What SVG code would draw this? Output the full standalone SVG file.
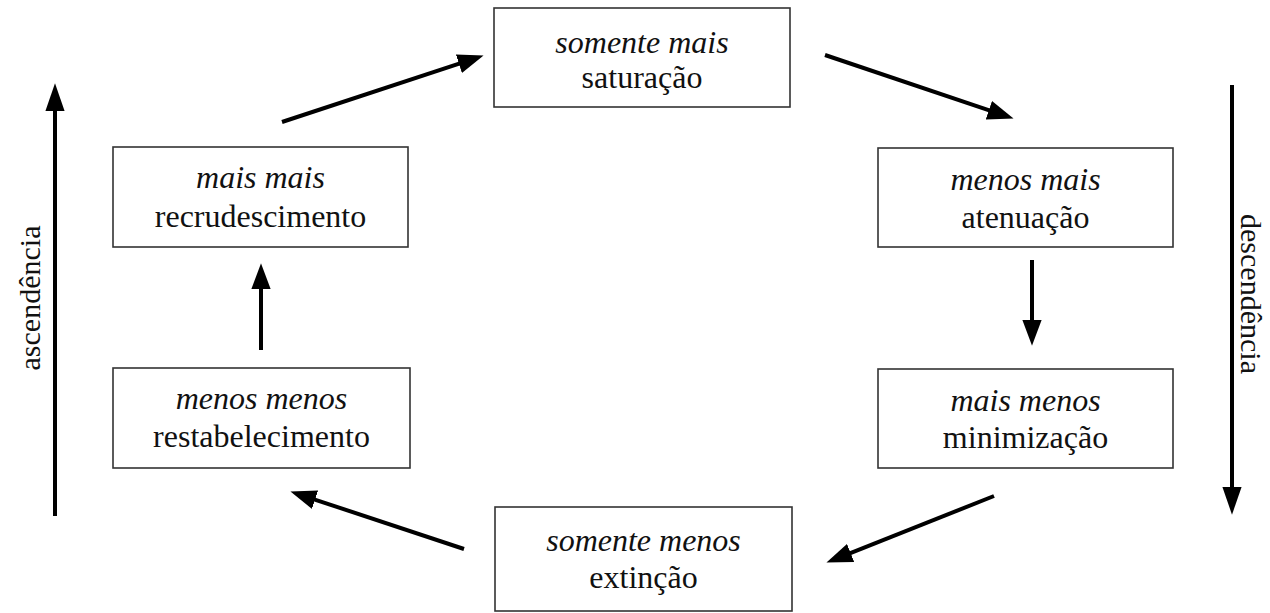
<svg xmlns="http://www.w3.org/2000/svg" width="1270" height="613" viewBox="0 0 1270 613">
<defs>
<style>
.box{fill:#fff;stroke:#333;stroke-width:1.6}
.t{font-family:"Liberation Serif","Times New Roman",serif;font-size:32px;fill:#111;text-anchor:middle}
.i{font-style:italic}
.side{font-family:"Liberation Serif","Times New Roman",serif;font-size:30px;fill:#111;text-anchor:middle}
.c{stroke:#000;stroke-width:4;fill:none;marker-end:url(#ah)}
.c2{stroke:#000;stroke-width:4;fill:none;marker-end:url(#ah2)}
</style>
<marker id="ah" markerUnits="userSpaceOnUse" markerWidth="26" markerHeight="20" refX="4" refY="9" orient="auto" viewBox="0 0 24 18">
<path d="M0,0 L24,9 L0,18 Z" fill="#000"/>
</marker>
<marker id="ah2" markerUnits="userSpaceOnUse" markerWidth="28" markerHeight="20" refX="4" refY="9" orient="auto" viewBox="0 0 26 18">
<path d="M0,0 L26,9 L0,18 Z" fill="#000"/>
</marker>
</defs>
<rect width="1270" height="613" fill="#fff"/>
<g id="connectors">
<line class="c" x1="282" y1="122" x2="463" y2="62.3"/>
<line class="c" x1="825" y1="55" x2="993" y2="111.6"/>
<line class="c" x1="1032" y1="260" x2="1032" y2="324"/>
<line class="c" x1="994" y1="496" x2="846.6" y2="554.6"/>
<line class="c" x1="464" y1="549" x2="311" y2="498.3"/>
<line class="c" x1="261" y1="350" x2="261" y2="285"/>
<line class="c2" x1="55" y1="516" x2="55" y2="107"/>
<line class="c2" x1="1232" y1="85" x2="1232" y2="491"/>
</g>
<g id="saturacao">
<rect class="box" x="494" y="8" width="296" height="99"/>
<text class="t i" x="642" y="53">somente mais</text>
<text class="t" x="642" y="88">saturação</text>
</g>
<g id="atenuacao">
<rect class="box" x="878" y="148" width="295" height="99"/>
<text class="t i" x="1025.5" y="190">menos mais</text>
<text class="t" x="1025.5" y="228">atenuação</text>
</g>
<g id="minimizacao">
<rect class="box" x="878" y="369" width="295" height="99"/>
<text class="t i" x="1025.5" y="411">mais menos</text>
<text class="t" x="1025.5" y="448">minimização</text>
</g>
<g id="extincao">
<rect class="box" x="495" y="507" width="297" height="104"/>
<text class="t i" x="643.5" y="551">somente menos</text>
<text class="t" x="643.5" y="588">extinção</text>
</g>
<g id="restabelecimento">
<rect class="box" x="113" y="368" width="297" height="100"/>
<text class="t i" x="261.5" y="409">menos menos</text>
<text class="t" x="261.5" y="447">restabelecimento</text>
</g>
<g id="recrudescimento">
<rect class="box" x="113" y="147" width="295" height="100"/>
<text class="t i" x="260.5" y="188">mais mais</text>
<text class="t" x="260.5" y="227">recrudescimento</text>
</g>
<g id="ascendencia">
<text class="side" transform="translate(40,298) rotate(-90)">ascendência</text>
</g>
<g id="descendencia">
<text class="side" transform="translate(1241,294) rotate(90)">descendência</text>
</g>
</svg>
